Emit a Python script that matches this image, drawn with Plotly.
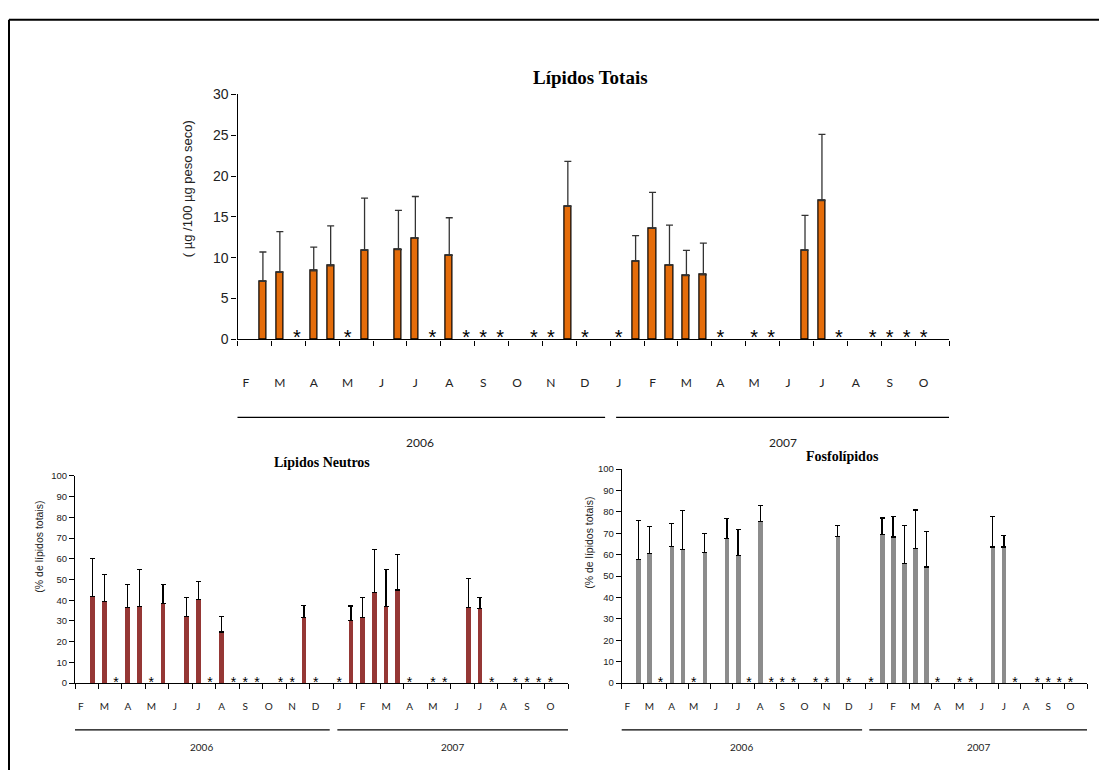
import plotly.graph_objects as go

# ---------------- data ----------------
months = ["F", "M", "A", "M", "J", "J", "A", "S", "O", "N", "D",
          "J", "F", "M", "A", "M", "J", "J", "A", "S", "O"]
years = ["2006", "2007"]
n_slots = 42  # two sampling slots per month (Feb 2006 - Oct 2007)

# sampling slots with data (bars) and slots with missing samples (*)
bar_slots = [1, 2, 4, 5, 7, 9, 10, 12, 19, 23, 24, 25, 26, 27, 33, 34]
missing_slots = [3, 6, 11, 13, 14, 15, 17, 18, 20, 22, 28, 30, 31, 35, 37, 38, 39, 40]

tot_mean = [7.1, 8.2, 8.4, 9.0, 10.9, 11.0, 12.4, 10.3, 16.3, 9.6, 13.6, 9.1, 7.8, 7.9, 10.9, 17.0]
tot_sd = [3.6, 5.0, 2.9, 4.9, 6.4, 4.8, 5.1, 4.6, 5.5, 3.1, 4.4, 4.9, 3.1, 3.9, 4.3, 8.1]

neu_mean = [41.9, 39.4, 36.4, 36.9, 38.4, 32.3, 40.5, 24.6, 31.7, 30.1, 31.7, 43.6, 36.9, 45.0, 36.4, 35.9]
neu_sd = [18.4, 12.9, 11.2, 17.9, 9.2, 9.0, 8.5, 7.4, 5.9, 7.1, 9.6, 21.0, 17.9, 16.9, 14.2, 5.4]

fos_mean = [57.9, 60.4, 63.7, 62.3, 61.0, 67.7, 59.6, 75.5, 68.4, 69.5, 68.3, 55.8, 63.0, 54.3, 63.6, 63.6]
fos_sd = [18.0, 12.6, 11.0, 18.2, 8.8, 9.1, 12.2, 7.4, 5.2, 7.6, 9.4, 17.8, 17.9, 16.6, 14.1, 5.3]

# ---------------- figure ----------------
W, H = 1099, 778
fig = go.Figure()

panels = [
    dict(mean=tot_mean, sd=tot_sd, color="#E46C0A", outline=1.2, bw=0.42,
         xa="x", ya="y", ast_size=20, err_w=3.5, err_c="#333333"),
    dict(mean=neu_mean, sd=neu_sd, color="#953735", outline=0, bw=0.4,
         xa="x2", ya="y2", ast_size=14, err_w=2.5, err_c="#000000"),
    dict(mean=fos_mean, sd=fos_sd, color="#8C8C8C", outline=0, bw=0.4,
         xa="x3", ya="y3", ast_size=14, err_w=2.5, err_c="#000000"),
]

for p in panels:
    fig.add_trace(go.Bar(
        x=bar_slots, y=p["mean"], width=p["bw"],
        marker=dict(color=p["color"],
                    line=dict(color="black", width=p["outline"])),
        error_y=dict(type="data", array=p["sd"],
                     arrayminus=[0] * len(p["sd"]), symmetric=False,
                     color=p["err_c"], thickness=1.3, width=p["err_w"]),
        xaxis=p["xa"], yaxis=p["ya"], showlegend=False,
    ))
    fig.add_trace(go.Scatter(
        x=missing_slots, y=[0] * len(missing_slots), mode="text",
        text=["*"] * len(missing_slots), textposition="middle center",
        textfont=dict(family="Liberation Sans", size=p["ast_size"], color="black"),
        cliponaxis=False, xaxis=p["xa"], yaxis=p["ya"], showlegend=False,
    ))


def px_x(v):
    return v / W


def px_y(v):
    return 1 - v / H


month_vals = list(range(0, n_slots, 2))
bound_vals = [b - 0.5 for b in range(0, n_slots + 1, 2)]


def xaxis_cfg(dom, anchor, font_size, standoff, lw):
    return dict(
        domain=dom, anchor=anchor, range=[-0.5, n_slots - 0.5],
        showline=True, linecolor="black", linewidth=lw,
        tickmode="array", tickvals=month_vals, ticktext=months,
        ticks="", ticklabelstandoff=standoff,
        tickfont=dict(family="Lato", size=font_size, color="#222"),
        minor=dict(tickmode="array", tickvals=bound_vals, ticks="outside",
                   ticklen=5, tickwidth=lw, tickcolor="black"),
        showgrid=False, zeroline=False, fixedrange=True,
    )


def yaxis_cfg(dom, anchor, rng, dtick, font_size, lw):
    return dict(
        domain=dom, anchor=anchor, range=rng, dtick=dtick, tick0=0,
        showline=True, linecolor="black", linewidth=lw,
        ticks="outside", ticklen=5, tickwidth=lw, tickcolor="black",
        tickfont=dict(family="Liberation Sans", size=font_size, color="#222"),
        showgrid=False, zeroline=False, fixedrange=True,
    )


fig.update_layout(
    width=W, height=H,
    margin=dict(l=0, r=0, t=0, b=0),
    paper_bgcolor="white", plot_bgcolor="white",
    bargap=0,
    xaxis=xaxis_cfg([px_x(237.5), px_x(949)], "y", 12, 32, 1.4),
    yaxis=yaxis_cfg([px_y(338.3), px_y(88.3)], "x", [0, 30], 5, 14, 1.4),
    xaxis2=xaxis_cfg([px_x(75), px_x(568)], "y2", 10, 14, 1.1),
    yaxis2=yaxis_cfg([px_y(689.3), px_y(477.7)], "x2", [0, 100], 10, 9.5, 1.1),
    xaxis3=xaxis_cfg([px_x(621.7), px_x(1087)], "y3", 10, 14, 1.1),
    yaxis3=yaxis_cfg([px_y(689.3), px_y(470.7)], "x3", [0, 100], 10, 9.5, 1.1),
)

shapes = []
annotations = []

# outer frame (top and left edges)
shapes.append(dict(type="line", xref="paper", yref="paper",
                   x0=px_x(9), x1=1.0, y0=px_y(12), y1=px_y(12),
                   line=dict(color="black", width=2)))
shapes.append(dict(type="line", xref="paper", yref="paper",
                   x0=px_x(9), x1=px_x(9), y0=0, y1=px_y(12),
                   line=dict(color="black", width=2)))

# year spans (slot units) and label positions
year_spans = [(-0.65, 21.2), (21.85, 41.55)]
year_cfg = [("x", 418, 444, 12), ("x2", 737, 755, 10), ("x3", 737, 755, 10)]
for xa, yl, yt, fs in year_cfg:
    for (a, b), yr in zip(year_spans, years):
        shapes.append(dict(type="line", xref=xa, yref="paper",
                           x0=a, x1=b, y0=px_y(yl), y1=px_y(yl),
                           line=dict(color="black", width=1.1)))
        annotations.append(dict(x=(a + b) / 2, y=px_y(yt), xref=xa, yref="paper",
                                text=yr, showarrow=False,
                                font=dict(family="Lato", size=fs, color="#222"),
                                xanchor="center", yanchor="middle"))

# titles
titles = [("Lípidos Totais", 590, 71, 19), ("Lípidos Neutros", 322, 464, 14),
          ("Fosfolípidos", 842, 458, 14)]
for t, x, y, fs in titles:
    annotations.append(dict(x=px_x(x), y=px_y(y), xref="paper", yref="paper",
                            text="<b>" + t + "</b>", showarrow=False,
                            font=dict(family="Liberation Serif", size=fs, color="black"),
                            xanchor="center", yanchor="middle"))

# y-axis titles
ytitles = [("( µg /100 µg peso seco)", 187, 185, 13),
           ("(% de lípidos totais)", 39, 550, 10.5),
           ("(% de lípidos totais)", 589, 546, 10.5)]
for t, x, y, fs in ytitles:
    annotations.append(dict(x=px_x(x), y=px_y(y), xref="paper", yref="paper",
                            text=t, showarrow=False, textangle=-90,
                            font=dict(family="Liberation Sans", size=fs, color="#222"),
                            xanchor="center", yanchor="middle"))

fig.update_layout(shapes=shapes, annotations=annotations)

fig.write_html("out.html", config={"displayModeBar": False})
